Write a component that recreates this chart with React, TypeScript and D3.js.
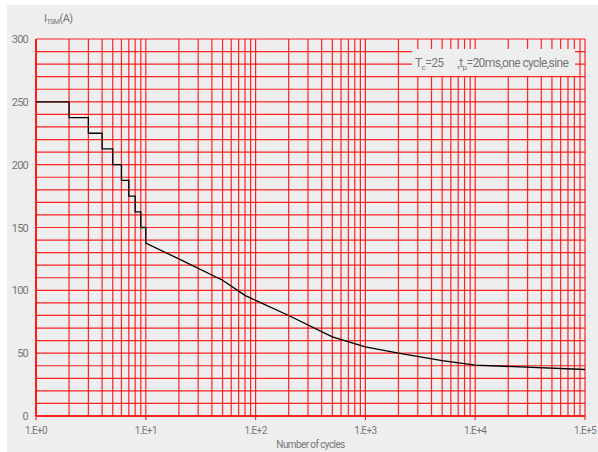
import React from "react";
import * as d3 from "d3";

// Surge current steps for the first 10 cycles (A)
const stepCycles = [1, 2, 3, 4, 5, 6, 7, 8, 9, 10];
const stepValues = [250, 237.5, 225, 212.5, 200, 187.5, 175, 162.5, 150];

// Continuous part of the curve after 10 cycles
const tailCycles = [10, 20, 50, 80, 100, 200, 500, 1000, 2000, 5000, 10000, 100000];
const tailValues = [137.5, 125, 108, 96, 92, 80, 63, 55, 50, 44, 40.5, 37];

const yTicks = [0, 50, 100, 150, 200, 250, 300];
const xTickLabels = ["1.E+0", "1.E+1", "1.E+2", "1.E+3", "1.E+4", "1.E+5"];

const W = 598;
const H = 452;
const margin = { left: 36, right: 13, top: 39, bottom: 36 };

const GRID = "#ff0000";
const TEXT = "#777777";
const FONT = "Roboto, 'Liberation Sans', sans-serif";

export default function App() {
  const x = d3
    .scaleLog()
    .domain([1, 1e5])
    .range([margin.left, W - margin.right]);
  const y = d3
    .scaleLinear()
    .domain([0, 300])
    .range([H - margin.bottom, margin.top]);

  // minor log grid: 1..9 in every decade plus the last one
  const vLines: number[] = [];
  for (let d = 0; d < 5; d++) {
    for (let k = 1; k < 10; k++) vLines.push(k * Math.pow(10, d));
  }
  vLines.push(1e5);
  const hLines = d3.range(0, 301, 10);

  // staircase points, then the smooth tail
  const pts: [number, number][] = [];
  stepValues.forEach((v, i) => {
    pts.push([stepCycles[i], v]);
    pts.push([stepCycles[i + 1], v]);
  });
  tailCycles.forEach((c, i) => pts.push([c, tailValues[i]]));

  const line = d3
    .line<[number, number]>()
    .x((d) => x(d[0]))
    .y((d) => y(d[1]));

  const [x0, x1] = x.range();
  const [yb, yt] = y.range();

  return (
    <svg
      width={W}
      height={H}
      style={{ position: "absolute", left: 0, top: 0, fontFamily: FONT }}
    >
      <rect x={0} y={0} width={W} height={H} fill="#ffffff" />
      <rect x={7} y={5} width={W - 7} height={H - 5} fill="#eeeeee" />

      {/* grid */}
      {hLines.map((v) => (
        <line
          key={"h" + v}
          x1={x0}
          x2={x1}
          y1={y(v)}
          y2={y(v)}
          stroke={GRID}
          strokeWidth={1.2}
          strokeOpacity={0.85}
        />
      ))}
      {vLines.map((v, i) => (
        <line
          key={"v" + i}
          x1={x(v)}
          x2={x(v)}
          y1={yt}
          y2={Number.isInteger(Math.log10(v)) ? yb + 4 : yb}
          stroke={GRID}
          strokeWidth={1.2}
          strokeOpacity={0.85}
        />
      ))}
      <line x1={x0} x2={x0} y1={yt} y2={yb} stroke={GRID} strokeWidth={1.5} />
      <line x1={x0} x2={x1} y1={yb} y2={yb} stroke={GRID} strokeWidth={1.5} />

      {/* annotation box */}
      <rect x={412} y={49} width={163} height={27} fill="#eeeeee" />
      <text x={415} y={67} fontSize={12} fill={TEXT} letterSpacing={-0.6}>
        T<tspan fontSize={8} dy={3}>c</tspan>
        <tspan dy={-3}>=25</tspan>
        <tspan dx={14}>,t</tspan>
        <tspan fontSize={8} dy={3}>p</tspan>
        <tspan dy={-3}>=20ms,one cycle,sine</tspan>
      </text>

      {/* curve */}
      <path d={line(pts) ?? ""} fill="none" stroke="#000000" strokeWidth={1.3} />

      {/* y axis */}
      {yTicks.map((t) => (
        <text
          key={"yt" + t}
          x={28}
          y={y(t) + 4}
          textAnchor="end"
          fontSize={11}
          fill={TEXT}
          letterSpacing={-0.8}
        >
          {t}
        </text>
      ))}
      <text x={44} y={22} fontSize={11} fill={TEXT} letterSpacing={-0.5}>
        I<tspan fontSize={7} dy={2}>TSM</tspan>
        <tspan dy={-2}>(A)</tspan>
      </text>

      {/* x axis */}
      {xTickLabels.map((t, i) => (
        <text
          key={t}
          x={x(Math.pow(10, i))}
          y={434}
          textAnchor="middle"
          fontSize={10}
          fill={TEXT}
          letterSpacing={-0.6}
        >
          {t}
        </text>
      ))}
      <text
        x={(x0 + x1) / 2}
        y={448}
        textAnchor="middle"
        fontSize={10}
        fill={TEXT}
        letterSpacing={-0.6}
      >
        Number of cycles
      </text>
    </svg>
  );
}
